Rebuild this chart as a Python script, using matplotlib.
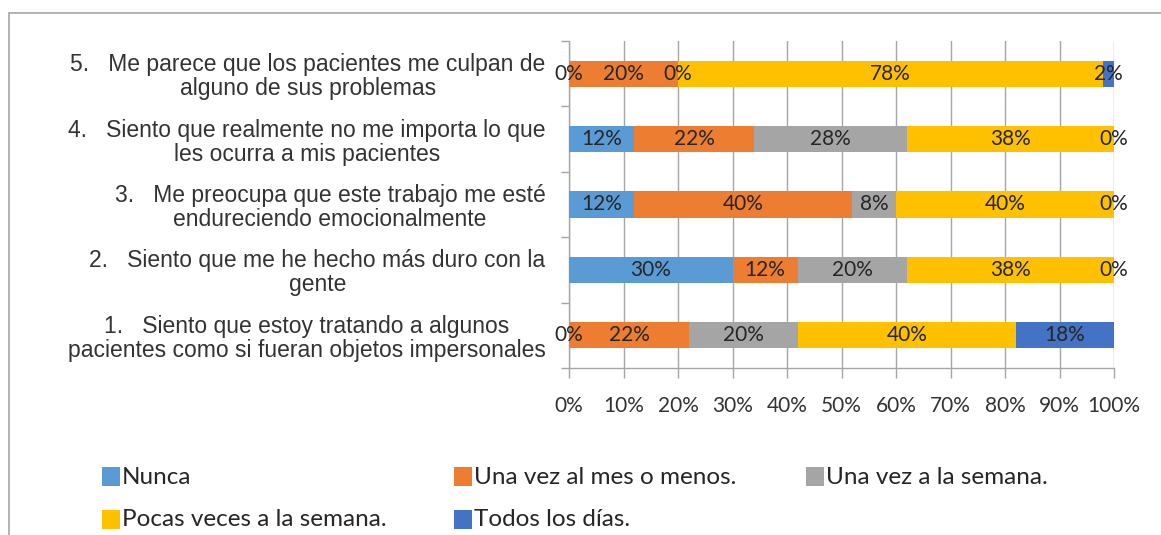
import matplotlib
matplotlib.use("Agg")
import matplotlib.pyplot as plt
from matplotlib.patches import Rectangle
from matplotlib.ticker import FixedLocator, PercentFormatter
import numpy as np

# ---- data (bottom to top) ----
categories = [
    "1.   Siento que estoy tratando a algunos\npacientes como si fueran objetos impersonales",
    "2.   Siento que me he hecho más duro con la\ngente",
    "3.   Me preocupa que este trabajo me esté\nendureciendo emocionalmente",
    "4.   Siento que realmente no me importa lo que\nles ocurra a mis pacientes",
    "5.   Me parece que los pacientes me culpan de\nalguno de sus problemas",
]
series_names = ["Nunca", "Una vez al mes o menos.", "Una vez a la semana.",
                "Pocas veces a la semana.", "Todos los días."]
nunca = [0, 30, 12, 12, 0]
una_vez_mes = [22, 12, 40, 22, 20]
una_vez_semana = [20, 20, 8, 28, 0]
pocas_veces = [40, 38, 40, 38, 78]
todos_dias = [18, 0, 0, 0, 2]
x_ticks = [0, 10, 20, 30, 40, 50, 60, 70, 80, 90, 100]

colors = ["#5B9BD5", "#ED7D31", "#A5A5A5", "#FFC000", "#4472C4"]
series = [nunca, una_vez_mes, una_vez_semana, pocas_veces, todos_dias]

W, H = 1161, 535
fig = plt.figure(figsize=(W / 100, H / 100), dpi=100)
ax = fig.add_axes([569 / W, 1 - 368 / H, (1114 - 569) / W, (368 - 41) / H])

y = np.arange(len(categories))
left = np.zeros(len(categories))
for vals, col, name in zip(series, colors, series_names):
    bars = ax.barh(y, vals, left=left, height=0.4, color=col, label=name, zorder=3)
    ax.bar_label(bars, labels=[f"{v:g}%" for v in vals], label_type="center",
                 fontfamily="Lato", fontsize=15, color="#262626", zorder=4)
    left = left + np.array(vals)

ax.set_xlim(0, 100)
ax.set_ylim(-0.5, len(categories) - 0.5)
ax.xaxis.set_major_locator(FixedLocator(x_ticks))
ax.xaxis.set_major_formatter(PercentFormatter(decimals=0))
ax.grid(axis="x", color="#A6A6A6", linewidth=1.0, zorder=0)
ax.set_axisbelow(True)

ax.set_yticks(y)
ax.set_yticklabels(categories, fontfamily="Liberation Sans", fontsize=16.5,
                   color="#333333", multialignment="center", linespacing=1.05)
ax.set_yticks(np.arange(-0.5, len(categories), 1.0), minor=True)
ax.tick_params(axis="y", which="major", length=0, pad=17)
ax.tick_params(axis="y", which="minor", length=6, color="#A6A6A6", width=1)
ax.tick_params(axis="x", which="major", length=7, color="#A6A6A6", width=1,
               pad=13, labelsize=15, labelcolor="#333333")
for lab in ax.get_xticklabels():
    lab.set_fontfamily("Lato")

for s in ["top", "right"]:
    ax.spines[s].set_visible(False)
for s in ["left", "bottom"]:
    ax.spines[s].set_color("#A6A6A6")
    ax.spines[s].set_linewidth(1)

# ---- legend (manual grid) ----
col_x = [102, 454, 806]
row_y = [477, 520]
for i, (name, col) in enumerate(zip(series_names, colors)):
    cx = col_x[i % 3]
    cy = row_y[i // 3]
    fig.patches.append(Rectangle((cx / W, 1 - (cy + 9) / H), 18 / W, 19 / H,
                                 transform=fig.transFigure, facecolor=col,
                                 edgecolor="none"))
    fig.text((cx + 20) / W, 1 - cy / H, name, fontfamily="Lato", fontsize=17.5,
             color="#262626", va="center", ha="left")

# ---- chart frame (cropped: only top and left visible) ----
fig.patches.append(Rectangle((9 / W, -0.2), 1.5, 1 - 13 / H + 0.2,
                             transform=fig.transFigure, facecolor="none",
                             edgecolor="#A6A6A6", linewidth=1.2))

fig.savefig("out.png", dpi=100)
